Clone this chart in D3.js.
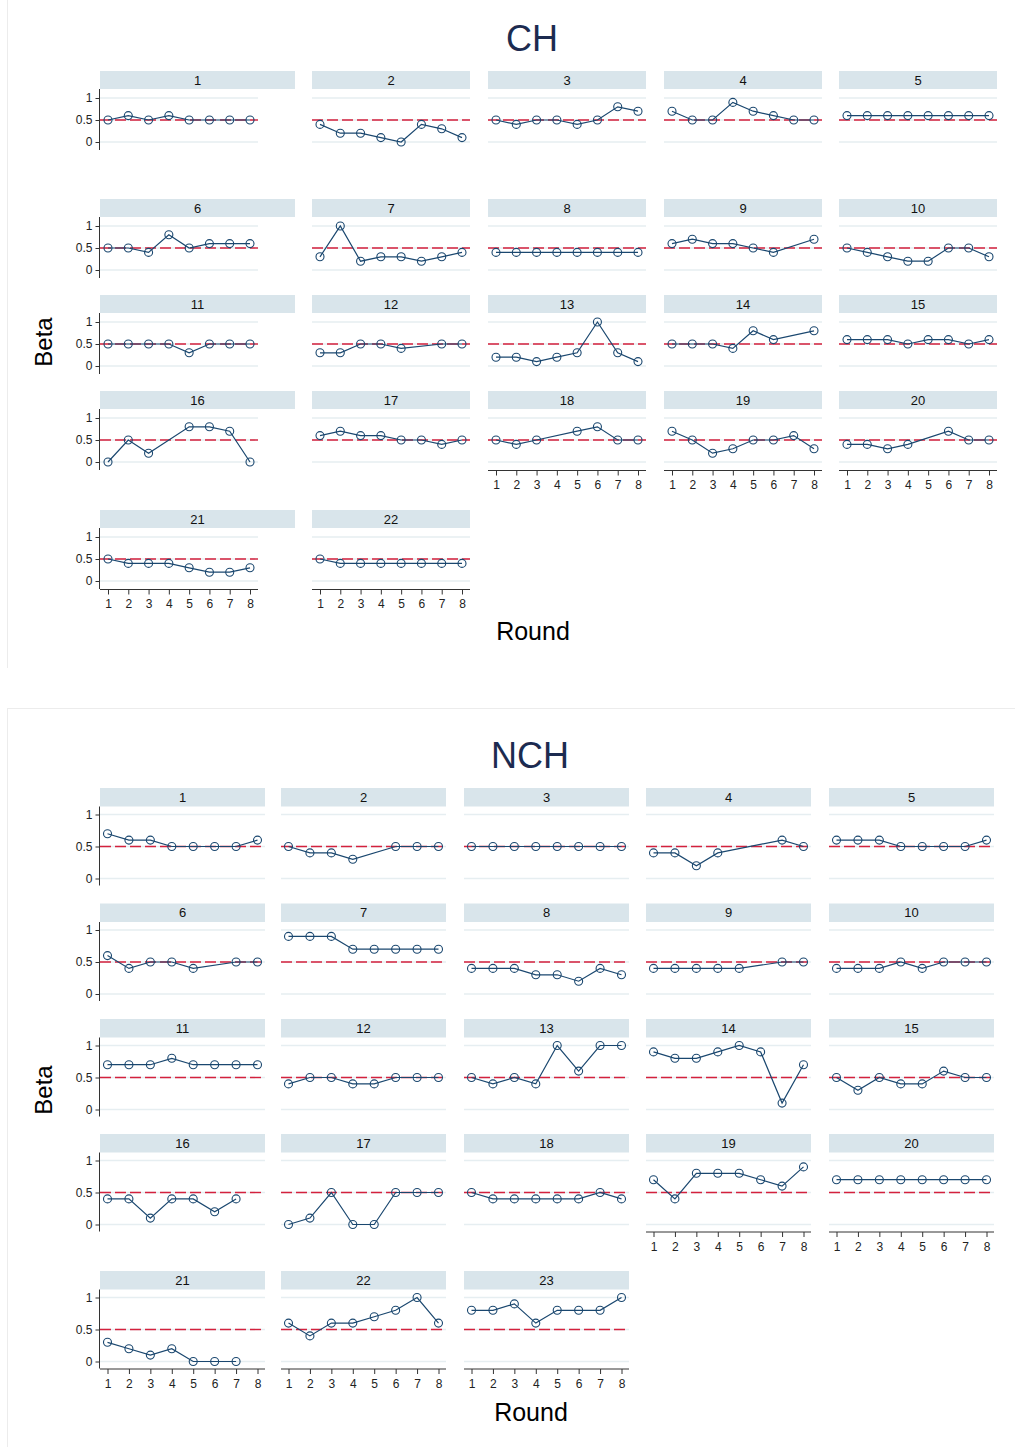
<!DOCTYPE html>
<html>
<head>
<meta charset="utf-8">
<script src="https://cdn.jsdelivr.net/npm/d3@7"></script>
<style>
  body { margin: 0; background: #fff; }
  svg { display: block; font-family: "Liberation Sans", Arial, sans-serif; }
</style>
</head>
<body>
<svg id="chart" width="1022" height="1447"></svg>
<script>
// ========== Data ==========

const rounds = [1, 2, 3, 4, 5, 6, 7, 8];
const yTicks = [0, 0.5, 1];
const refBeta = 0.5;

const chGroups = [1, 2, 3, 4, 5, 6, 7, 8, 9, 10, 11, 12, 13, 14, 15, 16, 17, 18, 19, 20, 21, 22];
const chBeta = [
    [0.5, 0.6, 0.5, 0.6, 0.5, 0.5, 0.5, 0.5],
    [0.4, 0.2, 0.2, 0.1, 0, 0.4, 0.3, 0.1],
    [0.5, 0.4, 0.5, 0.5, 0.4, 0.5, 0.8, 0.7],
    [0.7, 0.5, 0.5, 0.9, 0.7, 0.6, 0.5, 0.5],
    [0.6, 0.6, 0.6, 0.6, 0.6, 0.6, 0.6, 0.6],
    [0.5, 0.5, 0.4, 0.8, 0.5, 0.6, 0.6, 0.6],
    [0.3, 1.0, 0.2, 0.3, 0.3, 0.2, 0.3, 0.4],
    [0.4, 0.4, 0.4, 0.4, 0.4, 0.4, 0.4, 0.4],
    [0.6, 0.7, 0.6, 0.6, 0.5, 0.4, null, 0.7],
    [0.5, 0.4, 0.3, 0.2, 0.2, 0.5, 0.5, 0.3],
    [0.5, 0.5, 0.5, 0.5, 0.3, 0.5, 0.5, 0.5],
    [0.3, 0.3, 0.5, 0.5, 0.4, null, 0.5, 0.5],
    [0.2, 0.2, 0.1, 0.2, 0.3, 1.0, 0.3, 0.1],
    [0.5, 0.5, 0.5, 0.4, 0.8, 0.6, null, 0.8],
    [0.6, 0.6, 0.6, 0.5, 0.6, 0.6, 0.5, 0.6],
    [0, 0.5, 0.2, null, 0.8, 0.8, 0.7, 0],
    [0.6, 0.7, 0.6, 0.6, 0.5, 0.5, 0.4, 0.5],
    [0.5, 0.4, 0.5, null, 0.7, 0.8, 0.5, 0.5],
    [0.7, 0.5, 0.2, 0.3, 0.5, 0.5, 0.6, 0.3],
    [0.4, 0.4, 0.3, 0.4, null, 0.7, 0.5, 0.5],
    [0.5, 0.4, 0.4, 0.4, 0.3, 0.2, 0.2, 0.3],
    [0.5, 0.4, 0.4, 0.4, 0.4, 0.4, 0.4, 0.4]
];

const nchGroups = [1, 2, 3, 4, 5, 6, 7, 8, 9, 10, 11, 12, 13, 14, 15, 16, 17, 18, 19, 20, 21, 22, 23];
const nchBeta = [
    [0.7, 0.6, 0.6, 0.5, 0.5, 0.5, 0.5, 0.6],
    [0.5, 0.4, 0.4, 0.3, null, 0.5, 0.5, 0.5],
    [0.5, 0.5, 0.5, 0.5, 0.5, 0.5, 0.5, 0.5],
    [0.4, 0.4, 0.2, 0.4, null, null, 0.6, 0.5],
    [0.6, 0.6, 0.6, 0.5, 0.5, 0.5, 0.5, 0.6],
    [0.6, 0.4, 0.5, 0.5, 0.4, null, 0.5, 0.5],
    [0.9, 0.9, 0.9, 0.7, 0.7, 0.7, 0.7, 0.7],
    [0.4, 0.4, 0.4, 0.3, 0.3, 0.2, 0.4, 0.3],
    [0.4, 0.4, 0.4, 0.4, 0.4, null, 0.5, 0.5],
    [0.4, 0.4, 0.4, 0.5, 0.4, 0.5, 0.5, 0.5],
    [0.7, 0.7, 0.7, 0.8, 0.7, 0.7, 0.7, 0.7],
    [0.4, 0.5, 0.5, 0.4, 0.4, 0.5, 0.5, 0.5],
    [0.5, 0.4, 0.5, 0.4, 1.0, 0.6, 1.0, 1.0],
    [0.9, 0.8, 0.8, 0.9, 1.0, 0.9, 0.1, 0.7],
    [0.5, 0.3, 0.5, 0.4, 0.4, 0.6, 0.5, 0.5],
    [0.4, 0.4, 0.1, 0.4, 0.4, 0.2, 0.4, null],
    [0, 0.1, 0.5, 0, 0, 0.5, 0.5, 0.5],
    [0.5, 0.4, 0.4, 0.4, 0.4, 0.4, 0.5, 0.4],
    [0.7, 0.4, 0.8, 0.8, 0.8, 0.7, 0.6, 0.9],
    [0.7, 0.7, 0.7, 0.7, 0.7, 0.7, 0.7, 0.7],
    [0.3, 0.2, 0.1, 0.2, 0, 0, 0, null],
    [0.6, 0.4, 0.6, 0.6, 0.7, 0.8, 1.0, 0.6],
    [0.8, 0.8, 0.9, 0.6, 0.8, 0.8, 0.8, 1.0]
];

// ========== Layout ==========

const chLayout = {
    title: "CH", titleX: 532, titleY: 51,
    colX: [100, 312, 488, 664, 839], plotW: 158, inset: 8,
    stripW: [195, 158, 158, 158, 158],
    rowY: [71, 199, 295, 391, 510], stripH: 18,
    padTop: 9, unit: 44, plotH: 61,
    betaY: 342, roundX: 533, roundY: 640
};

const nchLayout = {
    title: "NCH", titleX: 530, titleY: 768,
    colX: [100, 281, 464, 646, 829], plotW: 165, inset: 7.5,
    stripW: [165, 165, 165, 165, 165],
    rowY: [788, 903.5, 1019, 1134, 1271], stripH: 18.5,
    padTop: 8, unit: 64, plotH: 79,
    betaY: 1090, roundX: 531, roundY: 1421
};

const colors = {
    line: "#1a476f",
    ref: "#d4213d",
    grid: "#e6eef1",
    strip: "#d9e5eb",
    title: "#1c2b50",
    axis: "#333"
};

// ========== Drawing ==========

const svg = d3.select("#chart");

// faint graph borders
svg.append("line").attr("x1", 7.5).attr("x2", 7.5).attr("y1", 0).attr("y2", 668)
    .attr("stroke", "#ececec");
svg.append("line").attr("x1", 7).attr("x2", 1015).attr("y1", 708.5).attr("y2", 708.5)
    .attr("stroke", "#ececec");
svg.append("line").attr("x1", 7.5).attr("x2", 7.5).attr("y1", 708).attr("y2", 1447)
    .attr("stroke", "#ececec");

drawFigure(chBeta, chGroups, chLayout);
drawFigure(nchBeta, nchGroups, nchLayout);

function drawFigure(beta, groups, L) {
    const g = svg.append("g");

    g.append("text")
        .attr("x", L.titleX).attr("y", L.titleY)
        .attr("text-anchor", "middle")
        .attr("font-size", 36)
        .attr("fill", colors.title)
        .text(L.title);

    g.append("text")
        .attr("transform", `translate(52,${L.betaY}) rotate(-90)`)
        .attr("text-anchor", "middle")
        .attr("font-size", 24)
        .attr("fill", "#000")
        .text("Beta");

    g.append("text")
        .attr("x", L.roundX).attr("y", L.roundY)
        .attr("text-anchor", "middle")
        .attr("font-size", 25)
        .attr("fill", "#000")
        .text("Round");

    groups.forEach((id, i) => {
        const row = Math.floor(i / 5), col = i % 5;
        const left = L.colX[col];
        const stripTop = L.rowY[row];
        const top = stripTop + L.stripH;

        const x = d3.scaleLinear()
            .domain([d3.min(rounds), d3.max(rounds)])
            .range([left + L.inset, left + L.plotW - L.inset]);
        const y = d3.scaleLinear()
            .domain([0, 1])
            .range([top + L.padTop + L.unit, top + L.padTop]);

        // strip
        g.append("rect")
            .attr("x", left).attr("y", stripTop)
            .attr("width", L.stripW[col]).attr("height", L.stripH)
            .attr("fill", colors.strip);
        g.append("text")
            .attr("x", left + L.stripW[col] / 2)
            .attr("y", stripTop + L.stripH / 2 + 4.5)
            .attr("text-anchor", "middle")
            .attr("font-size", 13)
            .attr("fill", "#111")
            .text(id);

        // gridlines
        g.selectAll(null)
            .data(yTicks)
            .join("line")
            .attr("x1", left).attr("x2", left + L.plotW)
            .attr("y1", d => y(d)).attr("y2", d => y(d))
            .attr("stroke", colors.grid)
            .attr("stroke-width", 1.3);

        // reference line
        g.append("line")
            .attr("x1", left).attr("x2", left + L.plotW)
            .attr("y1", y(refBeta)).attr("y2", y(refBeta))
            .attr("stroke", colors.ref)
            .attr("stroke-width", 1.4)
            .attr("stroke-dasharray", "11,4");

        // y axis (first column)
        if (col === 0) {
            g.append("line")
                .attr("x1", left - 0.5).attr("x2", left - 0.5)
                .attr("y1", top).attr("y2", top + L.plotH)
                .attr("stroke", colors.axis);
            const ya = g.append("g")
                .attr("transform", `translate(${left - 0.5},0)`)
                .call(d3.axisLeft(y).tickValues(yTicks).tickFormat(d => String(d)).tickSize(4).tickPadding(3));
            ya.select(".domain").remove();
            ya.selectAll("line").attr("stroke", colors.axis);
            ya.selectAll("text").attr("font-size", 12).attr("fill", "#222")
                .attr("font-family", "Liberation Sans, Arial, sans-serif");
        }

        // x axis (bottom panel of each column)
        if (i + 5 >= groups.length) {
            const axisY = top + L.plotH;
            g.append("line")
                .attr("x1", left).attr("x2", left + L.plotW)
                .attr("y1", axisY + 0.5).attr("y2", axisY + 0.5)
                .attr("stroke", colors.axis);
            const xa = g.append("g")
                .attr("transform", `translate(0,${axisY + 0.5})`)
                .call(d3.axisBottom(x).tickValues(rounds).tickFormat(d => String(d)).tickSize(5).tickPadding(5));
            xa.select(".domain").remove();
            xa.selectAll("line").attr("stroke", colors.axis);
            xa.selectAll("text").attr("font-size", 12).attr("fill", "#222")
                .attr("font-family", "Liberation Sans, Arial, sans-serif");
        }

        // series
        const pts = rounds
            .map((r, k) => ({ r: r, v: beta[i][k] }))
            .filter(d => d.v !== null);

        g.append("path")
            .datum(pts)
            .attr("fill", "none")
            .attr("stroke", colors.line)
            .attr("stroke-width", 1.2)
            .attr("d", d3.line().x(d => x(d.r)).y(d => y(d.v)));

        g.selectAll(null)
            .data(pts)
            .join("circle")
            .attr("cx", d => x(d.r))
            .attr("cy", d => y(d.v))
            .attr("r", 4)
            .attr("fill", "none")
            .attr("stroke", colors.line)
            .attr("stroke-width", 1.1);
    });
}
</script>
</body>
</html>
